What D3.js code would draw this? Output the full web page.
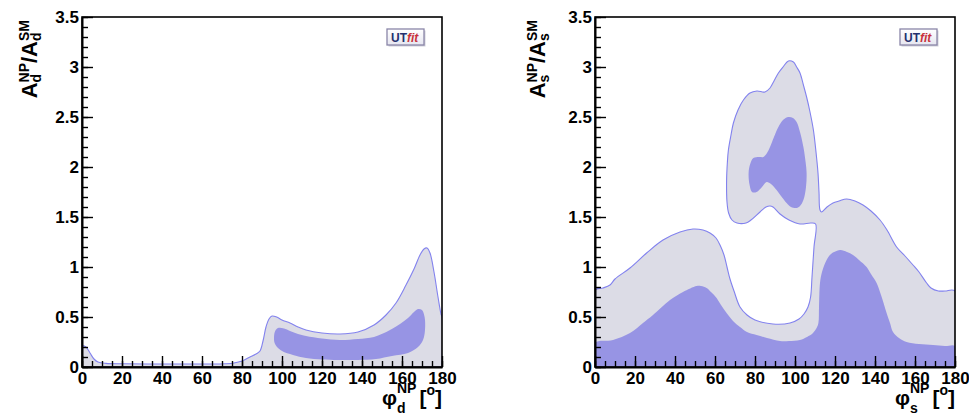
<!DOCTYPE html>
<html><head><meta charset="utf-8">
<script src="https://cdn.jsdelivr.net/npm/d3@7"></script>
<style>
body{margin:0;background:#fff}
svg{display:block}
text{font-family:"Liberation Sans",Arial,Helvetica,sans-serif;font-weight:bold;fill:#000}
</style>
</head><body>
<svg id="chart" width="969" height="413"></svg>
<script>
// ---- data ----
const xTickValues = [0,20,40,60,80,100,120,140,160,180];
const xTickLabels = ["0","20","40","60","80","100","120","140","160","180"];
const yTickValues = [0,0.5,1,1.5,2,2.5,3,3.5];
const yTickLabels = ["0","0.5","1","1.5","2","2.5","3","3.5"];

// B_d panel: 95% region (phi_d, A_d^NP/A_d^SM)
const outerD = [[0,0],[0,0.21],[2,0.2],[4,0.14],[6,0.08],[8,0.05],[12,0.036],[20,0.032],[40,0.03],[60,0.03],[72,0.033],[76,0.04],[80,0.06],[84,0.1],[87,0.13],[89,0.16],[90.5,0.26],[92,0.4],[93.5,0.48],[95,0.51],[97.3,0.5],[100,0.47],[104,0.44],[108,0.4],[112,0.37],[120,0.34],[129,0.33],[138,0.35],[146,0.42],[152,0.52],[157,0.64],[162,0.82],[166,0.98],[169,1.12],[171,1.18],[172.5,1.19],[174,1.14],[176,0.95],[178,0.7],[179.5,0.53],[180,0.5],[180,0]];
// B_d panel: 68% region
const innerD = [[96,0.3],[96.6,0.36],[98,0.39],[101,0.385],[104,0.36],[108,0.33],[112,0.31],[120,0.285],[129,0.27],[138,0.28],[146,0.3],[154,0.37],[159,0.43],[163,0.49],[166,0.55],[168,0.58],[170,0.57],[171.3,0.5],[171.5,0.37],[170.5,0.27],[168,0.2],[163,0.14],[155,0.11],[147,0.08],[138,0.07],[128,0.07],[120,0.075],[112,0.09],[105.5,0.12],[100,0.16],[97.5,0.2],[96.3,0.24]];

// B_s panel: 95% region
const outerS = [[0,0],[0,0.77],[4,0.79],[7.5,0.82],[10,0.88],[17.5,0.99],[25.8,1.14],[34,1.27],[42.5,1.35],[49,1.38],[54,1.37],[57.5,1.34],[60.5,1.29],[62.5,1.22],[64.5,1.12],[66,1.0],[67.5,0.88],[69.5,0.76],[72.5,0.6],[76,0.52],[80,0.47],[89,0.43],[97.5,0.44],[102,0.48],[104.5,0.53],[106.5,0.6],[107.8,0.7],[108.5,0.9],[109.5,1.2],[110.3,1.43],
 [108,1.44],[102.5,1.43],[97,1.47],[92.5,1.53],[89,1.6],[87.5,1.61],[85.5,1.6],[82.5,1.55],[78,1.47],[75.5,1.44],[71,1.44],[68.5,1.47],[66.8,1.54],[66,1.65],[65.8,1.87],[66.2,2.05],[66.7,2.17],[68,2.32],[69.2,2.44],[71.5,2.57],[74.2,2.67],[77.5,2.74],[81,2.76],[85,2.75],[87.5,2.79],[89.5,2.86],[91.7,2.94],[94,3.0],[96.7,3.06],[99.2,3.05],[100.8,3.0],[102.5,2.94],[104.2,2.82],[105.8,2.7],[107.5,2.55],[109.2,2.37],[110.5,2.15],[111.5,1.94],[112,1.75],[112.5,1.57],[113.3,1.55],[116,1.6],[119,1.64],[122,1.66],[125.8,1.68],[130,1.66],[134,1.62],[138,1.56],[142.5,1.47],[146,1.37],[150.8,1.2],[155,1.11],[159,1.02],[162,0.95],[165.8,0.84],[168,0.79],[171.7,0.76],[175,0.76],[180,0.76],[180,0]];
// B_s panel: 68% regions
const innerS = [[0,0],[0,0.24],[9,0.27],[17.5,0.34],[24,0.44],[29,0.52],[37.5,0.67],[44,0.75],[50.8,0.81],[53,0.81],[55.8,0.79],[58,0.75],[60.8,0.69],[63,0.62],[65.8,0.54],[69,0.46],[72.5,0.4],[76,0.35],[80.8,0.32],[86,0.29],[92.5,0.26],[97,0.26],[102.5,0.27],[106,0.3],[109,0.34],[110.8,0.39],[111.7,0.44],[112,0.6],[112.5,0.84],[113.5,0.95],[115.8,1.07],[118,1.13],[122.5,1.17],[126,1.15],[129,1.12],[132,1.07],[135.8,1.0],[138,0.93],[140.8,0.84],[143,0.72],[145.8,0.54],[147.5,0.44],[149,0.35],[152,0.29],[155.8,0.25],[162,0.23],[169,0.22],[175,0.21],[180,0.21],[180,0]];
const islandS = [[96.7,2.5],[99,2.49],[100.8,2.45],[102.5,2.35],[104.2,2.2],[105.3,2.05],[105.8,1.94],[105.5,1.8],[104.2,1.67],[102.5,1.61],[100.8,1.59],[98,1.6],[95.8,1.64],[93,1.71],[90.8,1.77],[88,1.83],[85.8,1.85],[83.5,1.8],[80.8,1.75],[78.5,1.75],[77.3,1.82],[76.8,1.94],[77.6,2.03],[79.2,2.09],[82,2.1],[84.2,2.1],[86,2.14],[87.5,2.2],[89.5,2.3],[91.7,2.4],[94,2.47]];

// ---- drawing ----
const svg = d3.select("#chart");
const defs = svg.append("defs");
const LIGHT = "#dcdce6", DARK = "#9794e4", EDGE = "#8282ee";

const grad = defs.append("linearGradient").attr("id", "logoGrad").attr("x1", 0).attr("y1", 0).attr("x2", 0).attr("y2", 1);
grad.append("stop").attr("offset", "0%").attr("stop-color", "#ffffff");
grad.append("stop").attr("offset", "100%").attr("stop-color", "#e6e6f0");

function rich(g, items, anchorX, baseY){
  let x = 0; const els = [];
  items.forEach(it => {
    if (it.gap){ x += it.gap; return; }
    if (it.sup){
      const a = g.append("text").attr("x", x).attr("y", baseY + it.sup.dy).style("font-size", it.sup.s + "px").text(it.sup.t);
      const b = g.append("text").attr("x", x).attr("y", baseY + it.sub.dy).style("font-size", it.sub.s + "px").text(it.sub.t);
      x += Math.max(a.node().getComputedTextLength(), b.node().getComputedTextLength());
      els.push(a, b);
    } else {
      const a = g.append("text").attr("x", x).attr("y", baseY + (it.dy || 0)).style("font-size", it.s + "px").text(it.t);
      x += a.node().getComputedTextLength();
      els.push(a);
    }
  });
  const shift = anchorX - x;
  els.forEach(e => e.attr("x", +e.attr("x") + shift));
}

function logo(g, x, y){
  g.append("rect").attr("x", x + 1.5).attr("y", y + 1.5).attr("width", 37).attr("height", 16).attr("fill", "#cfcfda");
  g.append("rect").attr("x", x).attr("y", y).attr("width", 37).attr("height", 16)
    .attr("fill", "url(#logoGrad)").attr("stroke", "#8a86a8").attr("stroke-width", 1.3);
  const t = g.append("text").attr("x", x + 4).attr("y", y + 12.5).style("font-size", "12px");
  t.append("tspan").style("fill", "#23306e").text("UT");
  t.append("tspan").style("fill", "#c8323c").style("font-style", "italic").text("fit");
}

function panel(cfg){
  const x = d3.scaleLinear().domain([0,180]).range([cfg.x0, cfg.x1]);
  const y = d3.scaleLinear().domain([0,3.5]).range([cfg.y1, cfg.y0]);
  defs.append("clipPath").attr("id", "clip" + cfg.id).append("rect")
    .attr("x", cfg.x0).attr("y", cfg.y0).attr("width", cfg.x1 - cfg.x0).attr("height", cfg.y1 - cfg.y0);
  const g = svg.append("g");
  const plot = g.append("g").attr("clip-path", "url(#clip" + cfg.id + ")");
  const line = d3.line().x(d => x(d[0])).y(d => y(d[1])).curve(d3.curveCatmullRom.alpha(0.5));
  const lineC = d3.line().x(d => x(d[0])).y(d => y(d[1])).curve(d3.curveCatmullRomClosed.alpha(0.5));
  cfg.outer.forEach(poly => plot.append("path").attr("d", line(poly) + "Z").attr("fill", LIGHT).attr("stroke", EDGE).attr("stroke-width", 1.1));
  cfg.inner.forEach(poly => plot.append("path").attr("d", line(poly) + "Z").attr("fill", DARK));
  cfg.blobs.forEach(poly => plot.append("path").attr("d", lineC(poly)).attr("fill", DARK));

  // frame
  g.append("rect").attr("x", cfg.x0).attr("y", cfg.y0).attr("width", cfg.x1 - cfg.x0).attr("height", cfg.y1 - cfg.y0)
    .attr("fill", "none").attr("stroke", "#000").attr("stroke-width", 1.6);

  // x axis
  const xMinor = g.append("g").attr("transform", `translate(0,${cfg.y1})`)
    .call(d3.axisBottom(x).tickValues(d3.range(0, 181, 5)).tickSize(-6).tickFormat(""));
  const xMajor = g.append("g").attr("transform", `translate(0,${cfg.y1})`)
    .call(d3.axisBottom(x).tickValues(xTickValues).tickSize(-11).tickSizeOuter(0).tickPadding(5)
      .tickFormat((d,i) => xTickLabels[i]));
  // y axis
  const yMinor = g.append("g").attr("transform", `translate(${cfg.x0},0)`)
    .call(d3.axisLeft(y).tickValues(d3.range(0, 36).map(v => v / 10)).tickSize(-6).tickFormat(""));
  const yMajor = g.append("g").attr("transform", `translate(${cfg.x0},0)`)
    .call(d3.axisLeft(y).tickValues(yTickValues).tickSize(-11).tickSizeOuter(0).tickPadding(3)
      .tickFormat((d,i) => yTickLabels[i]));
  [xMinor, yMinor].forEach(a => a.select(".domain").remove());
  [xMinor, xMajor, yMinor, yMajor].forEach(a => {
    a.selectAll(".tick line").attr("stroke", "#000").attr("stroke-width", 1.4);
    a.selectAll("text").style("font-size", "17px").style("font-family", null).attr("fill", "#000");
  });
  [xMajor, yMajor].forEach(a => a.select(".domain").attr("stroke", "#000").attr("stroke-width", 2));
  yMajor.selectAll(".tick text").attr("dy", "0.34em");

  // y title
  const yt = svg.append("g").attr("transform", `translate(${cfg.ytx},20) rotate(-90)`);
  rich(yt, [
    {t: "A", s: 22},
    {sup: {t: "NP", s: 14, dy: -8}, sub: {t: cfg.sub, s: 14, dy: 4}},
    {t: "/", s: 22},
    {t: "A", s: 22},
    {sup: {t: "SM", s: 14, dy: -8}, sub: {t: cfg.sub, s: 14, dy: 4}}
  ], 0, 0);
  // x title
  const xt = svg.append("g");
  rich(xt, [
    {t: "φ", s: 21},
    {sup: {t: "NP", s: 14, dy: -12}, sub: {t: cfg.sub, s: 14, dy: 8}},
    {gap: 3},
    {t: "[", s: 21},
    {t: "o", s: 14, dy: -10},
    {t: "]", s: 21}
  ], cfg.x1, 405);

  logo(svg.append("g"), cfg.x1 - 55, 29);
}

panel({id: "d", x0: 82, x1: 442, y0: 17, y1: 367, sub: "d", ytx: 37, outer: [outerD], inner: [], blobs: [innerD]});
panel({id: "s", x0: 595, x1: 955, y0: 17, y1: 367, sub: "s", ytx: 545, outer: [outerS], inner: [innerS], blobs: [islandS]});
</script>
</body></html>
